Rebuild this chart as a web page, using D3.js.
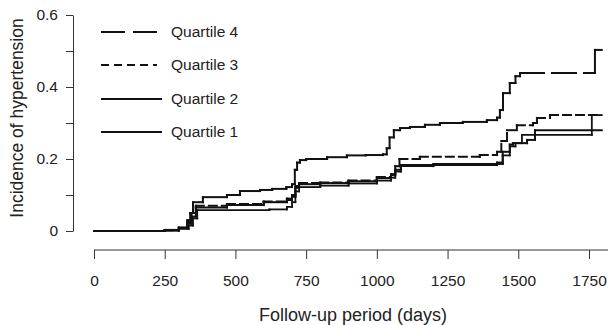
<!DOCTYPE html>
<html>
<head>
<meta charset="utf-8">
<script src="https://cdn.jsdelivr.net/npm/d3@7"></script>
<style>
  body { margin: 0; background: #fff; }
  svg { display: block; font-family: "Liberation Sans", Arial, sans-serif; }
</style>
</head>
<body>
<svg id="chart" width="608" height="325"></svg>
<script>
// Cumulative incidence step curves, [day, incidence]
const quartile4 = [[0,0],[250,0.003],[300,0.01],[330,0.03],[340,0.05],[350,0.08],[385,0.094],[470,0.1],[516,0.111],[587,0.114],[630,0.117],[680,0.122],[700,0.13],[710,0.17],[718,0.19],[728,0.197],[750,0.2],[824,0.205],[894,0.21],[960,0.211],[1022,0.213],[1035,0.23],[1045,0.26],[1060,0.28],[1082,0.286],[1117,0.289],[1170,0.295],[1223,0.3],[1304,0.303],[1389,0.308],[1425,0.315],[1435,0.336],[1446,0.383],[1470,0.411],[1490,0.43],[1506,0.439],[1771,0.503],[1795,0.503]];
const quartile3 = [[0,0],[250,0.002],[300,0.008],[330,0.025],[345,0.05],[360,0.07],[470,0.075],[600,0.082],[682,0.09],[700,0.1],[712,0.125],[725,0.133],[800,0.135],[900,0.14],[1000,0.15],[1050,0.158],[1065,0.18],[1080,0.2],[1152,0.206],[1364,0.211],[1425,0.22],[1440,0.25],[1460,0.28],[1495,0.294],[1552,0.3],[1566,0.314],[1612,0.322],[1795,0.322]];
const quartile2 = [[0,0],[250,0.002],[300,0.008],[330,0.02],[345,0.04],[360,0.065],[470,0.072],[600,0.08],[682,0.086],[700,0.095],[712,0.12],[725,0.13],[800,0.133],[900,0.138],[1000,0.147],[1050,0.155],[1065,0.17],[1085,0.183],[1200,0.186],[1425,0.19],[1445,0.22],[1470,0.24],[1481,0.244],[1531,0.253],[1559,0.28],[1795,0.28]];
const quartile1 = [[0,0],[250,0.001],[300,0.006],[335,0.015],[350,0.035],[365,0.058],[620,0.06],[682,0.067],[700,0.08],[712,0.11],[725,0.122],[800,0.126],[900,0.132],[1000,0.14],[1050,0.148],[1065,0.165],[1085,0.18],[1200,0.183],[1425,0.186],[1445,0.21],[1470,0.235],[1490,0.244],[1513,0.267],[1760,0.322],[1795,0.322]];

const seriesNames = ['Quartile 4', 'Quartile 3', 'Quartile 2', 'Quartile 1'];
const xTicks = [0, 250, 500, 750, 1000, 1250, 1500, 1750];
const yTicks = [0, 0.1, 0.2, 0.3, 0.4, 0.5, 0.6];
const yLabels = { 0: '0', 0.2: '0.2', 0.4: '0.4', 0.6: '0.6' };

const svg = d3.select('#chart');
const font = '"Liberation Sans", Arial, sans-serif';

const x = d3.scaleLinear().domain([0, 1750]).range([94, 589]);
const y = d3.scaleLinear().domain([0, 0.6]).range([231, 15]);

// styles per series
const styles = [
  { data: quartile4, dash: '24,8', width: 2 },
  { data: quartile3, dash: '8,5', width: 2 },
  { data: quartile2, dash: null, width: 2 },
  { data: quartile1, dash: null, width: 1.8 }
];

// X axis
const xAxis = svg.append('g')
  .attr('transform', 'translate(0,250)')
  .call(d3.axisBottom(x).tickValues(xTicks).tickSize(9).tickSizeOuter(0)
    .tickPadding(16).tickFormat(d3.format('d')));
xAxis.select('.domain').remove();
xAxis.append('line')
  .attr('x1', x(0)).attr('x2', 608)
  .attr('stroke', '#333').attr('stroke-width', 1);
xAxis.selectAll('.tick line').attr('stroke', '#333');
xAxis.selectAll('.tick text').attr('font-size', 15.5).attr('fill', '#222')
  .style('font-family', font);

// Y axis
const yAxis = svg.append('g')
  .attr('transform', 'translate(73,0)')
  .call(d3.axisLeft(y).tickValues(yTicks).tickSize(7).tickSizeOuter(0).tickPadding(8)
    .tickFormat(d => yLabels[d] !== undefined ? yLabels[d] : ''));
yAxis.select('.domain').attr('stroke', '#333');
yAxis.selectAll('.tick line').attr('stroke', '#333');
yAxis.selectAll('.tick text').attr('font-size', 15.5).attr('fill', '#222')
  .style('font-family', font);

// Axis titles
svg.append('text')
  .attr('x', 353).attr('y', 321)
  .attr('text-anchor', 'middle')
  .attr('font-size', 18).attr('fill', '#222')
  .text('Follow-up period (days)');

svg.append('text')
  .attr('transform', 'translate(23,118) rotate(-90)')
  .attr('text-anchor', 'middle')
  .attr('font-size', 17.5).attr('fill', '#222')
  .text('Incidence of hypertension');

// Curves: each step drawn as its own segment so the dash pattern restarts
function stepSegments(data) {
  const segs = [];
  for (let i = 1; i < data.length; i++) {
    const a = data[i - 1], b = data[i];
    segs.push([[a[0], a[1]], [b[0], a[1]]]);
    if (b[1] !== a[1]) segs.push([[b[0], a[1]], [b[0], b[1]]]);
  }
  return segs;
}

const line = d3.line()
  .x(d => x(d[0]))
  .y(d => y(d[1]));

const curves = svg.append('g')
  .attr('fill', 'none')
  .attr('stroke', '#111')
  .attr('stroke-linecap', 'square');

styles.slice().reverse().forEach(s => {
  curves.append('g')
    .attr('stroke-width', s.width)
    .attr('stroke-dasharray', s.dash)
    .selectAll('path')
    .data(stepSegments(s.data))
    .join('path')
    .attr('d', line);
});

// Legend
const legend = svg.append('g');
const legendY = [32, 65, 99, 132];
seriesNames.forEach((name, i) => {
  legend.append('line')
    .attr('x1', 101).attr('x2', i < 2 ? 157 : 162)
    .attr('y1', legendY[i]).attr('y2', legendY[i])
    .attr('stroke', '#111').attr('stroke-width', 2)
    .attr('stroke-dasharray', styles[i].dash);
  legend.append('text')
    .attr('x', 171).attr('y', legendY[i])
    .attr('dy', '0.35em')
    .attr('font-size', 15.5).attr('fill', '#222')
    .text(name);
});
</script>
</body>
</html>
